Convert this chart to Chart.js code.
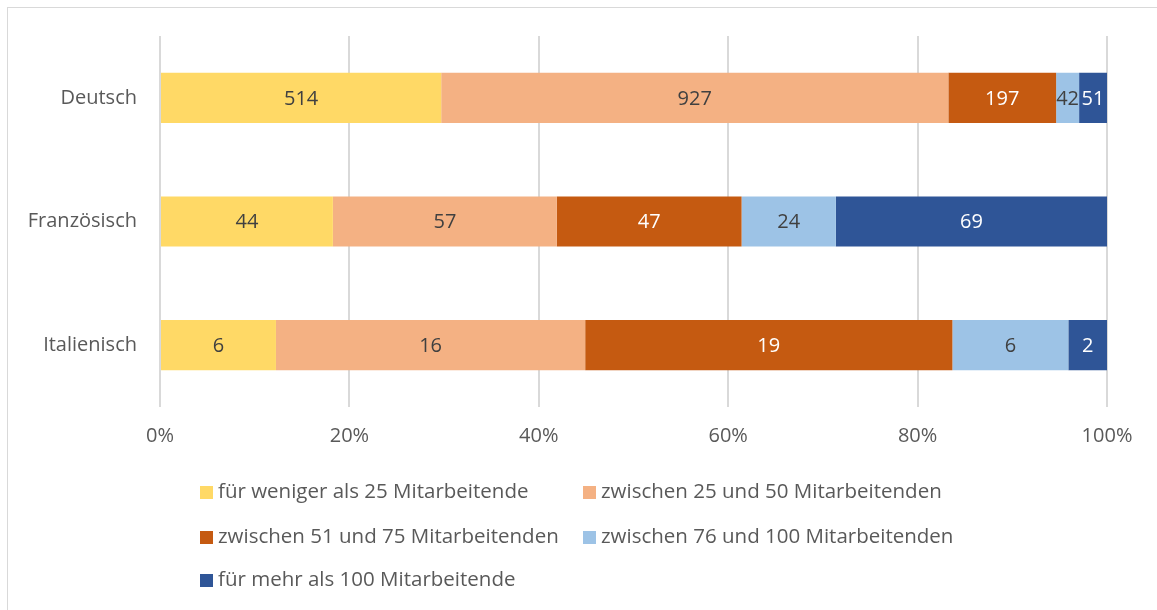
<!DOCTYPE html>
<html>
<head>
<meta charset="utf-8">
<script src="https://cdn.jsdelivr.net/npm/chart.js@4.4.0/dist/chart.umd.min.js"></script>
<style>
    body { margin: 0; background: #fff; font-family: "Open Sans", Lato, sans-serif; }
    #frame { position: absolute; left: 7px; top: 7px; width: 1160px; height: 620px; border: 1px solid #d9d9d9; box-sizing: border-box; }
    #box { position: absolute; left: 0; top: 0; width: 1157px; height: 460px; }
    #legend { position: absolute; left: 0; top: 0; width: 1157px; height: 610px; pointer-events: none; }
    .item { position: absolute; font-size: 20.5px; color: #595959; white-space: nowrap; line-height: 20px; }
    .item span { display: inline-block; width: 13px; height: 13px; margin-right: 5px; vertical-align: -1px; }
</style>
</head>
<body>
<div id="frame"></div>
<div id="box"><canvas id="myChart"></canvas></div>
<div id="legend"></div>
<script>
var languages = ["Deutsch", "Französisch", "Italienisch"];
var seriesNames = [
    "für weniger als 25 Mitarbeitende",
    "zwischen 25 und 50 Mitarbeitenden",
    "zwischen 51 und 75 Mitarbeitenden",
    "zwischen 76 und 100 Mitarbeitenden",
    "für mehr als 100 Mitarbeitende"
];
var under25 = [514, 44, 6];
var from25to50 = [927, 57, 16];
var from51to75 = [197, 47, 19];
var from76to100 = [42, 24, 6];
var over100 = [51, 69, 2];
var xTicks = [0, 0.2, 0.4, 0.6, 0.8, 1];

var colors = ["#FFD966", "#F4B183", "#C55A11", "#9DC3E6", "#2F5597"];
var labelColors = ["#404040", "#404040", "#ffffff", "#404040", "#ffffff"];

var allSeries = [under25, from25to50, from51to75, from76to100, over100];
var totals = languages.map(function (l, i) {
    var t = 0;
    allSeries.forEach(function (s) { t += s[i]; });
    return t;
});

var datasets = allSeries.map(function (s, k) {
    return {
        label: seriesNames[k],
        data: s.map(function (v, i) { return v / totals[i]; }),
        raw: s,
        backgroundColor: colors[k],
        barPercentage: 0.405,
        categoryPercentage: 1
    };
});

var valueLabels = {
    id: 'valueLabels',
    afterDatasetsDraw: function (chart) {
        var ctx = chart.ctx;
        ctx.save();
        ctx.font = '20px "Open Sans", Lato, sans-serif';
        ctx.textAlign = 'center';
        ctx.textBaseline = 'middle';
        chart.data.datasets.forEach(function (ds, k) {
            var meta = chart.getDatasetMeta(k);
            meta.data.forEach(function (bar, i) {
                ctx.fillStyle = labelColors[k];
                ctx.fillText(String(ds.raw[i]), (bar.x + bar.base) / 2, bar.y + 1);
            });
        });
        ctx.restore();
    }
};

var ctx = document.getElementById("myChart").getContext('2d');
var myChart = new Chart(ctx, {
    type: 'bar',
    data: { labels: languages, datasets: datasets },
    plugins: [valueLabels],
    options: {
        indexAxis: 'y',
        responsive: true,
        maintainAspectRatio: false,
        animation: false,
        layout: { padding: { top: 36, right: 50, left: 0, bottom: 0 } },
        plugins: { legend: { display: false }, tooltip: { enabled: false } },
        scales: {
            x: {
                stacked: true,
                min: 0,
                max: 1,
                afterBuildTicks: function (scale) {
                    scale.ticks = xTicks.map(function (v) { return { value: v }; });
                },
                afterFit: function (scale) { scale.height = 53; },
                grid: { color: '#d9d9d9', lineWidth: 2, drawTicks: false },
                border: { display: false },
                ticks: {
                    padding: 17,
                    color: '#595959',
                    font: { family: 'Open Sans', size: 20 },
                    callback: function (v) { return Math.round(v * 100) + '%'; }
                }
            },
            y: {
                stacked: true,
                afterFit: function (scale) { scale.width = 160; },
                grid: { display: false },
                border: { display: false },
                ticks: {
                    padding: 15,
                    color: '#595959',
                    font: { family: 'Open Sans', size: 20 }
                }
            }
        }
    }
});

// legend in two columns like the original
var legendPos = [[200, 480], [583, 480], [200, 525], [583, 525], [200, 568]];
var legend = document.getElementById('legend');
seriesNames.forEach(function (name, k) {
    var div = document.createElement('div');
    div.className = 'item';
    div.style.left = legendPos[k][0] + 'px';
    div.style.top = legendPos[k][1] + 'px';
    div.innerHTML = '<span style="background:' + colors[k] + '"></span>' + name;
    legend.appendChild(div);
});
</script>
</body>
</html>
